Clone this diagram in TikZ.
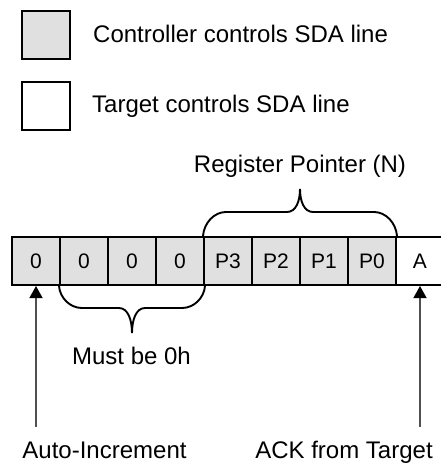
\documentclass[tikz,border=0pt]{standalone}
\usepackage{fontspec}
\setmainfont{Liberation Sans}
\usetikzlibrary{arrows.meta}
\definecolor{ctrlgray}{HTML}{E0E0E0}
\definecolor{arrgray}{HTML}{505050}
\tikzset{
  legbox/.style={draw=black, line width=2pt, minimum width=48pt, minimum height=48pt, inner sep=0pt},
  cell/.style={draw=black, line width=2pt, minimum width=48pt, minimum height=48pt, inner sep=0pt, font=\fontsize{21}{25}\selectfont},
  ctrl/.style={fill=ctrlgray},
  lbl/.style={inner sep=0pt, font=\fontsize{24}{28}\selectfont},
  brace/.style={draw=black, line width=1.9pt},
  arr/.style={draw=arrgray, line width=1.4pt, -{Triangle[width=13pt,length=12pt,fill=black,color=black]}}
}
\begin{document}
\begin{tikzpicture}[x=1pt,y=-1pt]
\useasboundingbox (0,0) rectangle (441,464);
% legend
\node[legbox, ctrl] (lg1) at (46,35) {};
\node[legbox] (lg2) at (46,106) {};
\node[lbl, anchor=base west] (lt1) at (93,42) {Controller controls SDA line};
\node[lbl, anchor=base west] (lt2) at (92,112) {Target controls SDA line};
% register cells
\node[cell, ctrl] (c0) at (36,261) {0};
\node[cell, ctrl] (c1) at (84,261) {0};
\node[cell, ctrl] (c2) at (132,261) {0};
\node[cell, ctrl] (c3) at (180,261) {0};
\node[cell, ctrl] (c4) at (228,261) {P3};
\node[cell, ctrl] (c5) at (276,261) {P2};
\node[cell, ctrl] (c6) at (324,261) {P1};
\node[cell, ctrl] (c7) at (372,261) {P0};
\node[cell] (cA) at (420,261) {A};
% upper brace
\draw[brace] (c4.north west) .. controls (204,223) and (214,212) .. (226,212) -- (287,212)
  .. controls (296,212) and (300,201) .. (300,189)
  .. controls (300,201) and (304,212) .. (313,212) -- (374,212)
  .. controls (386,212) and (396,223) .. (c7.north east);
\node[lbl, anchor=base] (rp) at (300,172.5) {Register Pointer (N)};
% lower brace
\draw[brace] (c1.south west) .. controls (60,298) and (70,308) .. (82,308) -- (119,308)
  .. controls (128,308) and (132,320) .. (132,333)
  .. controls (132,320) and (136,308) .. (145,308) -- (182,308)
  .. controls (194,308) and (204,298) .. (c3.south east);
\node[lbl, anchor=base] (mb) at (131.5,364) {Must be 0h};
% arrows
\coordinate (aiStart) at (36,427);
\coordinate (ackStart) at (420,427);
\draw[arr] (aiStart) -- (c0.south);
\draw[arr] (ackStart) -- (cA.south);
\node[lbl, anchor=base] (ai) at (104.5,458) {Auto-Increment};
\node[lbl, anchor=base] (ack) at (344,458) {ACK from Target};
\end{tikzpicture}
\end{document}
